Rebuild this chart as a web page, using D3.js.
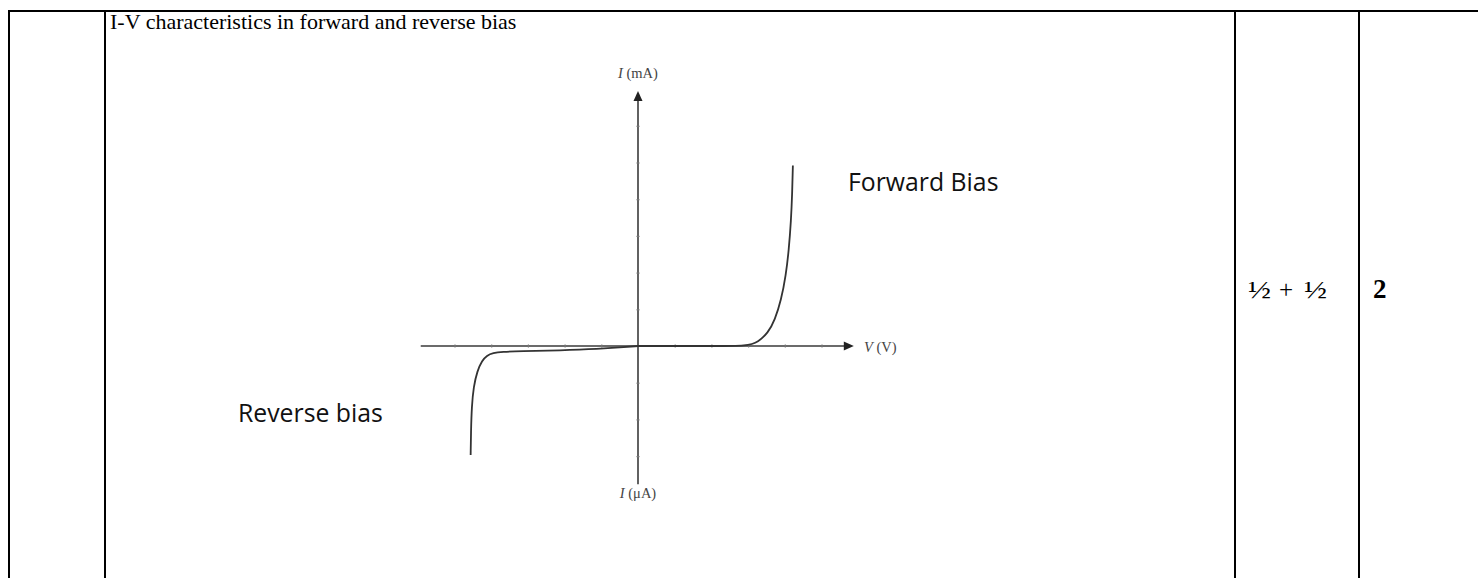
<!DOCTYPE html>
<html>
<head>
<meta charset="utf-8">
<script src="https://cdn.jsdelivr.net/npm/d3@7"></script>
<style>
  html, body { margin: 0; padding: 0; background: #fff; }
  svg { display: block; }
</style>
</head>
<body>
<svg id="chart" width="1478" height="578"></svg>
<script>
// ---- data (units = axis tick divisions) ----
const forwardV = [0, 1, 2, 3.0, 3.27, 3.54, 3.73, 3.90, 4.03, 4.11, 4.17, 4.20, 4.22];
const forwardI = [0, 0, 0, 0, 0.11, 0.35, 0.71, 1.25, 1.93, 2.62, 3.43, 4.12, 4.92];
const reverseV = [0, -0.49, -1.04, -2.13, -3.22, -3.70, -3.95, -4.12, -4.25, -4.38, -4.48, -4.53, -4.55, -4.56];
const reverseI = [0, -0.04, -0.08, -0.12, -0.14, -0.16, -0.19, -0.26, -0.40, -0.68, -1.11, -1.66, -2.29, -2.97];
const xTickValues = [-5, -4, -3, -2, -1, 1, 2, 3, 4, 5];
const yTickValues = [-3, -2, -1, 1, 2, 3, 4, 5, 6];
const titleText = "I-V characteristics in forward and reverse bias";
const forwardLabel = "Forward Bias";
const reverseLabel = "Reverse bias";
const marksText = ["½", "+", "½"];
const totalMark = "2";

const svg = d3.select("#chart");

// ---- table frame ----
const frame = svg.append("g").attr("stroke", "#000").attr("stroke-width", 2);
frame.append("line").attr("x1", 8).attr("x2", 1478).attr("y1", 11).attr("y2", 11);
[9, 105, 1235, 1359].forEach(x => {
  frame.append("line").attr("x1", x).attr("x2", x).attr("y1", 10).attr("y2", 578);
});

svg.append("text")
  .attr("x", 110).attr("y", 28.5)
  .attr("font-family", "Liberation Serif, Times New Roman, serif")
  .attr("font-size", 22)
  .attr("fill", "#000")
  .text(titleText);

// marks column
const markFont = "Liberation Serif, Times New Roman, serif";
svg.append("text").attr("x", 1248).attr("y", 298).attr("font-family", markFont)
  .attr("font-size", 26).attr("textLength", 23).attr("lengthAdjust", "spacingAndGlyphs").text(marksText[0]);
svg.append("text").attr("x", 1279).attr("y", 298).attr("font-family", markFont)
  .attr("font-size", 25).text(marksText[1]);
svg.append("text").attr("x", 1304).attr("y", 298).attr("font-family", markFont)
  .attr("font-size", 26).attr("textLength", 23).attr("lengthAdjust", "spacingAndGlyphs").text(marksText[2]);
svg.append("text").attr("x", 1373).attr("y", 298).attr("font-family", markFont)
  .attr("font-size", 27).attr("font-weight", "bold").text(totalMark);

// ---- plot ----
const unit = 36.7, ox = 638, oy = 346;
const x = d3.scaleLinear().domain([0, 1]).range([ox, ox + unit]);
const y = d3.scaleLinear().domain([0, 1]).range([oy, oy - unit]);
const axisColor = "#3a3a3a";

const plot = svg.append("g");

// axis lines
plot.append("line").attr("x1", x(-5.92)).attr("x2", x(5.65)).attr("y1", y(0)).attr("y2", y(0))
  .attr("stroke", axisColor).attr("stroke-width", 1.6);
plot.append("line").attr("x1", x(0)).attr("x2", x(0)).attr("y1", y(6.8)).attr("y2", y(-3.77))
  .attr("stroke", axisColor).attr("stroke-width", 1.6);

// arrowheads
const xt = x(5.88), yt = y(6.95);
plot.append("path").attr("d", `M${xt},${oy} L${xt - 10},${oy - 4.5} L${xt - 10},${oy + 4.5} Z`).attr("fill", "#222");
plot.append("path").attr("d", `M${ox},${yt} L${ox - 4.5},${yt + 10} L${ox + 4.5},${yt + 10} Z`).attr("fill", "#222");

// ticks via d3 axes
const xAxis = d3.axisBottom(x).tickValues(xTickValues).tickSizeInner(3).tickSizeOuter(0).tickFormat("");
const gx = plot.append("g").attr("transform", `translate(0,${oy - 1.5})`).call(xAxis);
gx.select(".domain").remove();
gx.selectAll(".tick line").attr("stroke", "#777").attr("stroke-width", 1.2);

const yAxis = d3.axisLeft(y).tickValues(yTickValues).tickSizeInner(3).tickSizeOuter(0).tickFormat("");
const gy = plot.append("g").attr("transform", `translate(${ox + 1.5},0)`).call(yAxis);
gy.select(".domain").remove();
gy.selectAll(".tick line").attr("stroke", "#777").attr("stroke-width", 1.2);

// curves
const line = d3.line().x(d => x(d[0])).y(d => y(d[1])).curve(d3.curveBasis);
plot.append("path").datum(forwardV.map((v, i) => [v, forwardI[i]]))
  .attr("d", line).attr("fill", "none").attr("stroke", "#333").attr("stroke-width", 1.8);
plot.append("path").datum(reverseV.map((v, i) => [v, reverseI[i]]))
  .attr("d", line).attr("fill", "none").attr("stroke", "#333").attr("stroke-width", 1.8);

// axis labels
const lblFont = "Liberation Serif, Times New Roman, serif";
const l1 = plot.append("text").attr("x", ox).attr("y", 78).attr("text-anchor", "middle")
  .attr("font-family", lblFont).attr("font-size", 14.5).attr("fill", "#444");
l1.append("tspan").attr("font-style", "italic").text("I");
l1.append("tspan").text(" (mA)");
const l2 = plot.append("text").attr("x", 864).attr("y", 352)
  .attr("font-family", lblFont).attr("font-size", 14.5).attr("fill", "#444");
l2.append("tspan").attr("font-style", "italic").text("V");
l2.append("tspan").text(" (V)");
const l3 = plot.append("text").attr("x", ox).attr("y", 498).attr("text-anchor", "middle")
  .attr("font-family", lblFont).attr("font-size", 14.5).attr("fill", "#444");
l3.append("tspan").attr("font-style", "italic").text("I");
l3.append("tspan").text(" (μA)");

// annotations
svg.append("text").attr("x", 848).attr("y", 191)
  .attr("font-family", "Open Sans, sans-serif").attr("font-size", 24.8).attr("fill", "#111")
  .text(forwardLabel);
svg.append("text").attr("x", 238).attr("y", 422)
  .attr("font-family", "Open Sans, sans-serif").attr("font-size", 24.8).attr("fill", "#111")
  .text(reverseLabel);
</script>
</body>
</html>
